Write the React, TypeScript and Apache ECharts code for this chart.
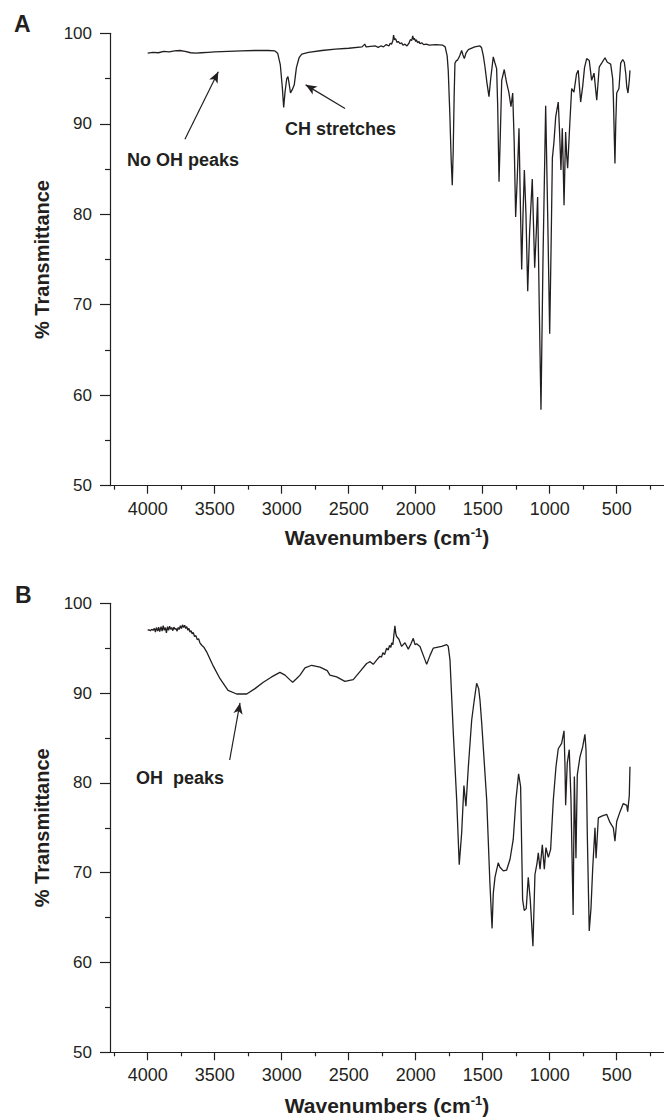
import React, { useEffect, useRef } from "react";
import * as echarts from "echarts";

const INK = "#231f20";
const FONT = "Liberation Sans, Arial, sans-serif";

// Wavenumber axis (cm-1), inverted: high on the left
const X_MIN = 147;
const X_MAX = 4281;
const xMajorTicks = [500, 1000, 1500, 2000, 2500, 3000, 3500, 4000];
const xMinorTicks = [250, 750, 1250, 1750, 2250, 2750, 3250, 3750, 4250];

// Panel A spectrum: [wavenumber, % transmittance]
const specA: number[][] = [
  [4000, 97.8], [3960, 97.9], [3920, 97.85], [3880, 98.0], [3840, 97.95], [3800, 98.05],
  [3760, 98.1], [3720, 98.0], [3680, 97.85], [3640, 97.8], [3600, 97.85], [3550, 97.9],
  [3500, 97.95], [3400, 98.0], [3300, 98.05], [3200, 98.1], [3100, 98.1], [3050, 98.05],
  [3030, 97.8], [3010, 96.5], [2995, 94.0], [2985, 91.8], [2975, 93.5], [2962, 95.0],
  [2953, 95.2], [2945, 94.5], [2934, 93.4], [2920, 93.8], [2906, 94.3], [2890, 96.2],
  [2870, 97.3], [2850, 97.7], [2800, 97.9], [2700, 98.1], [2600, 98.25], [2500, 98.35],
  [2400, 98.5], [2380, 98.8], [2370, 98.5], [2300, 98.6], [2280, 98.45], [2260, 98.6],
  [2240, 98.5], [2220, 98.75], [2200, 98.6], [2190, 98.9], [2180, 98.8], [2170, 99.2],
  [2165, 99.8], [2158, 99.3], [2150, 99.4], [2140, 99.0], [2130, 99.1], [2117, 98.85],
  [2105, 98.95], [2095, 98.7], [2080, 98.8], [2065, 98.6], [2050, 98.9], [2040, 99.3],
  [2030, 99.2], [2022, 99.7], [2015, 99.3], [2010, 99.45], [2000, 99.1], [1995, 99.3],
  [1985, 98.95], [1975, 99.1], [1968, 98.85], [1955, 98.95], [1940, 98.75], [1920, 98.8],
  [1900, 98.7], [1850, 98.75], [1800, 98.7],
  [1780, 98.5], [1765, 97.5], [1757, 95.9], [1745, 91.0], [1735, 86.0], [1727, 83.2],
  [1720, 87.0], [1713, 93.0], [1707, 96.7], [1695, 97.0], [1689, 97.0], [1672, 97.5],
  [1657, 98.1], [1647, 97.6], [1637, 97.2], [1625, 97.8], [1607, 98.2], [1560, 98.5],
  [1520, 98.6], [1508, 98.4], [1495, 97.5], [1483, 96.3], [1468, 94.5], [1453, 93.0],
  [1440, 95.0], [1421, 97.4], [1410, 96.8], [1396, 96.1], [1388, 92.0], [1378, 83.6],
  [1368, 89.0], [1358, 94.8], [1339, 96.0], [1330, 95.2], [1321, 94.5], [1305, 93.5],
  [1289, 91.9], [1276, 93.4], [1265, 88.0], [1254, 79.7], [1242, 84.0], [1229, 89.5],
  [1220, 82.0], [1209, 73.9], [1199, 80.0], [1189, 84.9], [1177, 80.0], [1164, 71.5],
  [1150, 78.0], [1130, 83.9], [1121, 79.0], [1112, 74.1], [1100, 78.0], [1090, 81.9],
  [1078, 70.0], [1065, 58.4], [1050, 75.0], [1030, 92.0], [1015, 80.0], [1000, 66.8],
  [990, 76.0], [980, 86.2], [968, 88.0], [955, 90.8], [936, 92.4], [926, 89.0],
  [916, 84.9], [906, 89.5], [900, 86.0], [893, 81.0], [881, 89.1], [873, 86.5],
  [866, 85.1], [850, 90.0], [836, 93.9], [819, 93.5], [800, 95.5], [787, 95.9],
  [769, 92.4], [754, 94.1], [740, 96.2], [724, 97.2], [705, 97.0], [687, 94.8],
  [669, 95.6], [649, 92.6], [630, 96.3], [612, 96.7], [587, 97.3], [570, 96.8],
  [545, 96.6], [530, 95.0], [525, 93.0], [517, 88.0], [513, 85.6], [507, 90.0],
  [500, 93.4], [483, 93.9], [470, 96.7], [455, 97.1], [443, 96.8], [432, 95.5],
  [425, 94.1], [416, 93.4], [406, 94.8], [401, 95.9],
];

// Panel B spectrum: [wavenumber, % transmittance]
const specB: number[][] = [
  [4000, 97.0], [3990, 97.05], [3980, 96.95], [3970, 97.1], [3960, 97.0], [3950, 97.2],
  [3942, 96.8], [3935, 97.3], [3925, 96.9], [3918, 97.35], [3910, 96.85], [3900, 97.4],
  [3892, 96.9], [3884, 97.5], [3876, 97.0], [3868, 97.3], [3860, 96.7], [3852, 97.4],
  [3844, 97.0], [3836, 97.45], [3828, 97.1], [3820, 97.3], [3812, 96.95], [3804, 97.35],
  [3796, 97.1], [3788, 97.2], [3780, 96.9], [3772, 97.3], [3764, 97.1], [3756, 97.5],
  [3748, 97.2], [3740, 97.6], [3732, 97.3], [3724, 97.55], [3716, 97.2], [3708, 97.4],
  [3700, 97.0], [3692, 97.2], [3684, 96.8], [3676, 96.95], [3668, 96.6], [3660, 96.75],
  [3650, 96.3], [3640, 96.4], [3630, 95.95], [3620, 96.05], [3610, 95.6], [3595, 95.3],
  [3580, 95.1], [3560, 94.6], [3510, 93.0], [3460, 91.6],
  [3400, 90.3], [3336, 89.9], [3261, 89.9], [3199, 90.5], [3137, 91.2], [3075, 91.8],
  [3013, 92.3], [2975, 92.0], [2940, 91.5], [2918, 91.2], [2890, 91.6], [2863, 92.0],
  [2826, 92.8], [2776, 93.1], [2714, 92.9], [2660, 92.5], [2640, 92.0], [2590, 91.8],
  [2528, 91.3], [2466, 91.5], [2416, 92.4], [2366, 93.3], [2340, 93.5], [2317, 93.2],
  [2290, 93.7], [2267, 94.1], [2255, 94.0], [2245, 94.5], [2232, 94.3], [2217, 95.0],
  [2205, 94.8], [2195, 95.3], [2185, 95.1], [2179, 95.6], [2170, 95.4], [2163, 96.4],
  [2155, 97.5], [2148, 96.6], [2142, 96.3], [2125, 96.0], [2105, 95.2], [2080, 95.6],
  [2055, 94.9], [2035, 95.5], [2018, 96.1], [2005, 95.4], [1993, 95.5], [1968, 95.2],
  [1943, 94.2], [1918, 93.2], [1893, 94.2], [1869, 95.0], [1806, 95.2], [1769, 95.4],
  [1757, 95.2], [1744, 93.7], [1719, 85.5], [1694, 78.1], [1675, 70.9], [1657, 74.4],
  [1640, 79.7], [1625, 77.4], [1607, 81.8], [1582, 87.0], [1563, 89.2], [1545, 91.1],
  [1530, 90.5], [1520, 89.2], [1507, 86.6], [1470, 78.1], [1446, 68.8], [1430, 63.8],
  [1421, 67.7], [1408, 69.5], [1384, 71.1], [1371, 70.6], [1346, 70.2], [1321, 70.3],
  [1296, 71.5], [1272, 73.7], [1252, 78.1], [1232, 81.0], [1217, 79.6], [1202, 67.0],
  [1190, 65.8], [1175, 66.0], [1160, 69.5], [1145, 67.0], [1125, 61.8], [1110, 69.8],
  [1095, 71.0], [1085, 72.2], [1072, 70.4], [1055, 73.1], [1040, 70.4], [1028, 72.8],
  [1010, 71.7], [993, 72.6], [973, 78.1], [953, 81.8], [936, 83.8], [911, 84.4],
  [893, 85.8], [886, 82.0], [881, 77.5], [869, 82.2], [854, 83.7], [841, 78.1],
  [831, 70.0], [825, 65.3], [816, 80.7], [804, 71.6], [794, 80.9], [774, 82.9],
  [754, 84.0], [737, 85.4], [729, 83.7], [719, 74.0], [705, 63.5], [692, 66.0],
  [679, 70.5], [662, 75.0], [654, 71.6], [637, 76.1], [612, 76.3], [575, 76.5],
  [550, 75.6], [525, 75.0], [513, 73.5], [500, 75.7], [475, 76.8], [451, 77.7],
  [425, 77.5], [418, 76.8], [406, 78.6], [401, 81.8],
];

// Annotation arrows, in data coordinates: [tail, head]
const arrowsA = [
  [[3722, 88.3], [3473, 95.75]],
  [[2527, 91.7], [2821, 94.3]],
];
const arrowsB = [[[3388, 82.55], [3311, 88.9]]];

function xAxes(grid: number, nameGap: number) {
  const lineStyle = { color: INK, width: 1.2 };
  return [
    {
      type: "value",
      gridIndex: grid,
      min: X_MIN,
      max: X_MAX,
      inverse: true,
      position: "bottom",
      axisLine: { show: true, onZero: false, lineStyle },
      axisTick: { show: true, customValues: xMajorTicks, length: 8, lineStyle },
      axisLabel: {
        show: true,
        customValues: xMajorTicks,
        formatter: (v: number) => String(Math.round(v)),
        fontSize: 18,
        color: INK,
        fontFamily: FONT,
        margin: 14,
      },
      splitLine: { show: false },
      name: "{b|Wavenumbers (cm}{s|-1}{b|)}",
      nameLocation: "middle",
      nameGap,
      nameTextStyle: {
        color: INK,
        fontFamily: FONT,
        rich: {
          b: { fontSize: 21, fontWeight: "bold", fontFamily: FONT, color: INK, lineHeight: 22, verticalAlign: "bottom" },
          s: { fontSize: 13, fontWeight: "bold", fontFamily: FONT, color: INK, lineHeight: 13, verticalAlign: "top" },
        },
      },
    },
    {
      type: "value",
      gridIndex: grid,
      min: X_MIN,
      max: X_MAX,
      inverse: true,
      position: "bottom",
      axisLine: { show: false, onZero: false },
      axisTick: { show: true, customValues: xMinorTicks, length: 4, lineStyle },
      axisLabel: { show: false },
      splitLine: { show: false },
    },
  ];
}

function yAxis(grid: number) {
  const lineStyle = { color: INK, width: 1.2 };
  return {
    type: "value",
    gridIndex: grid,
    min: 50,
    max: 100,
    interval: 10,
    axisLine: { show: true, onZero: false, lineStyle },
    axisTick: { show: true, length: 10, lineStyle },
    minorTick: { show: true, splitNumber: 2, length: 5, lineStyle },
    axisLabel: { fontSize: 17, color: INK, fontFamily: FONT, margin: 18 },
    splitLine: { show: false },
    minorSplitLine: { show: false },
    name: "% Transmittance",
    nameLocation: "middle",
    nameRotate: 90,
    nameGap: 58,
    nameTextStyle: { fontSize: 20, fontWeight: "bold", color: INK, fontFamily: FONT },
  };
}

function arrowMarks(arrows: number[][][]) {
  return {
    silent: true,
    animation: false,
    symbol: ["none", "arrow"],
    symbolSize: [7, 11],
    label: { show: false },
    lineStyle: { color: INK, width: 1.2, type: "solid" },
    emphasis: { disabled: true },
    data: arrows.map(([t, h]) => [{ coord: t }, { coord: h }]),
  };
}

function label(text: string, x: number, y: number, size: number, align = "center") {
  return {
    type: "text",
    x,
    y,
    silent: true,
    style: {
      text,
      fill: INK,
      font: `bold ${size}px ${FONT}`,
      align,
      verticalAlign: "middle",
    },
  };
}

export default function App() {
  const ref = useRef<HTMLDivElement>(null);
  useEffect(() => {
    if (!ref.current) return;
    const chart = echarts.init(ref.current, null, { renderer: "svg" });
    const option: any = {
      animation: false,
      backgroundColor: "#ffffff",
      grid: [
        { left: 110, top: 33.3, width: 554, height: 452.4, containLabel: false, outerBoundsMode: "none" },
        { left: 110, top: 603.3, width: 554, height: 449, containLabel: false, outerBoundsMode: "none" },
      ],
      xAxis: [...xAxes(0, 40), ...xAxes(1, 42)],
      yAxis: [yAxis(0), yAxis(1)],
      series: [
        {
          type: "line",
          xAxisIndex: 0,
          yAxisIndex: 0,
          data: specA,
          showSymbol: false,
          symbol: "none",
          lineStyle: { color: INK, width: 1.3 },
          markLine: arrowMarks(arrowsA),
        },
        {
          type: "line",
          xAxisIndex: 2,
          yAxisIndex: 1,
          data: specB,
          showSymbol: false,
          symbol: "none",
          lineStyle: { color: INK, width: 1.3 },
          markLine: arrowMarks(arrowsB),
        },
      ],
      graphic: [
        label("A", 14, 24, 23, "left"),
        label("B", 15, 595, 23, "left"),
        label("No OH peaks", 183, 160, 18),
        label("CH stretches", 340.5, 128.5, 18),
        label("OH  peaks", 136, 778, 18, "left"),
      ],
    };
    chart.setOption(option);
    return () => chart.dispose();
  }, []);
  return (
    <div
      ref={ref}
      style={{ position: "fixed", left: 0, top: 0, width: 664, height: 1117, background: "#fff" }}
    />
  );
}
